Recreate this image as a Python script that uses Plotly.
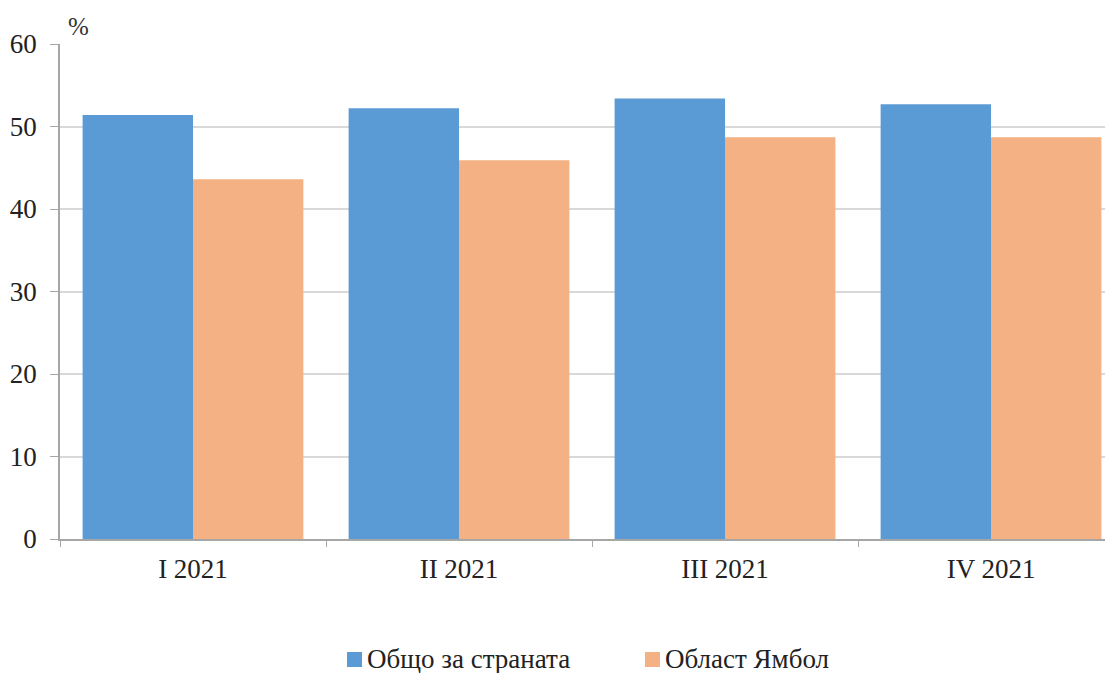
import plotly.graph_objects as go

categories = ["I 2021", "II 2021", "III 2021", "IV 2021"]
country = [51.4, 52.2, 53.4, 52.7]
yambol = [43.6, 45.9, 48.7, 48.7]
series_names = ["Общо за страната", "Област Ямбол"]
series_colors = ["#5B9BD5", "#F4B183"]
y_ticks = [0, 10, 20, 30, 40, 50, 60]

FONT = "Liberation Serif"
TXT = "#222222"

fig = go.Figure()
for name, vals, col in zip(series_names, [country, yambol], series_colors):
    fig.add_trace(go.Bar(x=categories, y=vals, name=name,
                         marker=dict(color=col, line=dict(width=0))))

# manual legend (squares + text) placed below the plot, in paper coordinates
PW, PH = 1053.0, 495.0          # plot area size in px
def px_x(X):                    # page px -> paper x
    return (X - 60) / PW
def px_y(Y):                    # page px -> paper y
    return (539 - Y) / PH

legend_sq_x = [347, 645]
LEG_Y = 659
shapes = []
annotations = []
for name, col, sx in zip(series_names, series_colors, legend_sq_x):
    shapes.append(dict(type="rect", xref="paper", yref="paper",
                       x0=px_x(sx), x1=px_x(sx + 15), y0=px_y(LEG_Y + 8), y1=px_y(LEG_Y - 7),
                       fillcolor=col, line=dict(width=0)))
    annotations.append(dict(text=name, xref="paper", yref="paper",
                            x=px_x(sx + 18), y=px_y(LEG_Y), xanchor="left", yanchor="middle",
                            showarrow=False,
                            font=dict(family=FONT, size=27, color=TXT)))
annotations.append(dict(text="%", xref="paper", yref="paper", x=px_x(66), y=1.0,
                        xanchor="left", yanchor="bottom", showarrow=False, yshift=2,
                        font=dict(family=FONT, size=25, color="#333333")))

fig.update_layout(
    width=1105, height=665,
    margin=dict(l=52, r=0, t=36, b=134, autoexpand=False),
    paper_bgcolor="white", plot_bgcolor="white",
    barmode="group", bargap=0.17, bargroupgap=0,
    font=dict(family=FONT, size=27, color=TXT),
    showlegend=False,
    shapes=shapes,
    annotations=annotations,
)
fig.update_xaxes(
    type="category", range=[-0.5, 3.4586],
    showline=True, linecolor="#A6A6A6", linewidth=1.5,
    ticks="outside", tickson="boundaries", ticklen=6, tickcolor="#A6A6A6",
    showgrid=False, ticklabelstandoff=5,
    tickfont=dict(family=FONT, size=27, color=TXT),
)
fig.update_yaxes(
    range=[0, 60], tickvals=y_ticks,
    showline=True, linecolor="#A6A6A6", linewidth=1.5,
    ticks="outside", ticklen=8, tickcolor="#A6A6A6",
    showgrid=True, gridcolor="#D9D9D9", gridwidth=2,
    zeroline=False, ticklabelstandoff=8,
    tickfont=dict(family=FONT, size=27, color=TXT),
)

fig.write_html("out.html")
